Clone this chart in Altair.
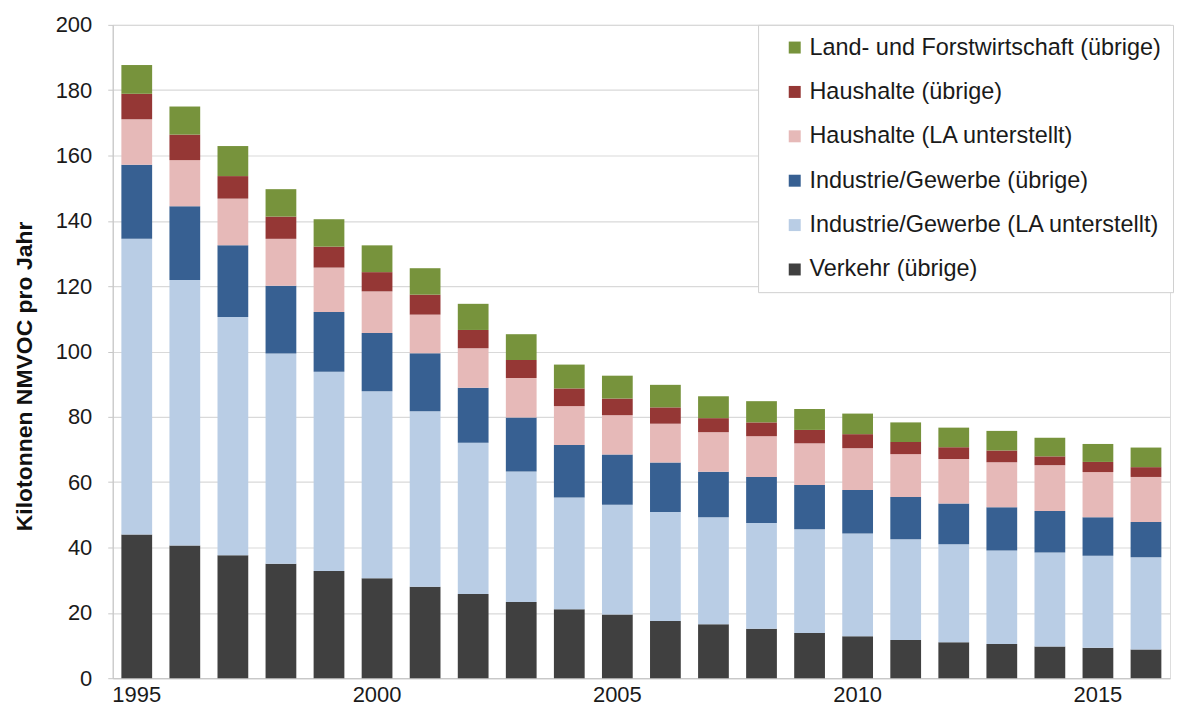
import altair as alt
import pandas as pd

years = list(range(1995, 2017))
verkehr = [44.0, 40.6, 37.6, 35.0, 32.8, 30.6, 28.0, 25.8, 23.3, 21.1, 19.5,
           17.5, 16.5, 15.1, 13.8, 12.8, 11.7, 11.0, 10.5, 9.7, 9.3, 8.8]
industrie_la = [90.5, 81.3, 73.0, 64.4, 61.0, 57.2, 53.7, 46.3, 40.0, 34.2, 33.6,
                33.4, 32.8, 32.4, 31.8, 31.5, 30.8, 30.0, 28.6, 28.8, 28.2, 28.2]
industrie_ub = [22.7, 22.6, 21.9, 20.7, 18.3, 17.9, 17.8, 16.8, 16.5, 16.1, 15.4,
                15.1, 13.9, 14.1, 13.5, 13.3, 13.0, 12.5, 13.2, 12.7, 11.8, 10.8]
haushalte_la = [13.9, 14.1, 14.3, 14.4, 13.6, 12.7, 11.8, 12.1, 12.1, 11.9, 12.0,
                11.9, 12.1, 12.5, 12.8, 12.8, 13.1, 13.6, 13.8, 14.0, 13.8, 13.8]
haushalte_ub = [7.8, 7.8, 6.9, 6.8, 6.4, 5.9, 6.1, 5.6, 5.5, 5.4, 5.1,
                5.0, 4.3, 4.2, 4.1, 4.3, 3.7, 3.6, 3.6, 2.7, 3.1, 3.0]
land = [8.8, 8.6, 9.2, 8.4, 8.4, 8.2, 8.1, 8.0, 7.9, 7.3, 7.0,
        6.9, 6.7, 6.5, 6.4, 6.3, 6.0, 6.0, 6.0, 5.7, 5.5, 6.0]

# stacking order: bottom to top
series_names = [
    "Verkehr (übrige)",
    "Industrie/Gewerbe (LA unterstellt)",
    "Industrie/Gewerbe (übrige)",
    "Haushalte (LA unterstellt)",
    "Haushalte (übrige)",
    "Land- und Forstwirtschaft (übrige)",
]
series_values = [verkehr, industrie_la, industrie_ub, haushalte_la, haushalte_ub, land]
series_colors = ["#404040", "#B9CDE5", "#376092", "#E6B9B8", "#953735", "#77933C"]
x_tick_labels = [1995, 2000, 2005, 2010, 2015]

rows = []
for idx, (name, vals) in enumerate(zip(series_names, series_values)):
    for yr, v in zip(years, vals):
        rows.append({"Jahr": yr, "Sektor": name, "Wert": v, "Reihenfolge": idx})
df = pd.DataFrame(rows)

legend_domain = list(reversed(series_names))
legend_range = list(reversed(series_colors))

FONT = "Liberation Sans"

chart = alt.Chart(df).mark_bar().encode(
    x=alt.X(
        "Jahr:O",
        title=None,
        scale=alt.Scale(paddingInner=0.36, paddingOuter=0.18),
        axis=alt.Axis(
            values=x_tick_labels,
            labelAngle=0,
            ticks=False,
            labelFontSize=22,
            labelFont=FONT,
            labelColor="#1a1a1a",
            labelPadding=6,
            domainColor="#c8c8c8",
            domainWidth=1.2,
            grid=False,
        ),
    ),
    y=alt.Y(
        "Wert:Q",
        stack="zero",
        title="Kilotonnen NMVOC pro Jahr",
        scale=alt.Scale(domain=[0, 200], nice=False),
        axis=alt.Axis(
            values=list(range(0, 201, 20)),
            labelFontSize=22,
            labelFont=FONT,
            labelColor="#1a1a1a",
            labelPadding=16,
            tickSize=5,
            tickColor="#c8c8c8",
            domainColor="#c8c8c8",
            domainWidth=1.2,
            gridColor="#d9d9d9",
            gridWidth=1.2,
            titleFont=FONT,
            titleFontSize=23,
            titleFontWeight="bold",
            titleColor="#111111",
            titlePadding=19,
            titleY=352,
        ),
    ),
    color=alt.Color(
        "Sektor:N",
        scale=alt.Scale(domain=legend_domain, range=legend_range),
        legend=alt.Legend(
            title=None,
            orient="none",
            legendX=647,
            legendY=0,
            direction="vertical",
            symbolType="square",
            symbolSize=144,
            symbolStrokeWidth=0,
            symbolOffset=14,
            labelOffset=3,
            labelFont=FONT,
            labelFontSize=23.5,
            labelColor="#1a1a1a",
            labelLimit=500,
            rowPadding=19.5,
            padding=11,
            fillColor="white",
            strokeColor="#d0d0d0",
        ),
    ),
    order=alt.Order("Reihenfolge:Q", sort="ascending"),
).properties(
    width=1060,
    height=655,
).configure_view(
    stroke=None
).configure(
    padding={"left": 5, "top": 5, "right": 2, "bottom": 2}
)

chart.save("out.html", embed_options={"renderer": "svg", "actions": False})
